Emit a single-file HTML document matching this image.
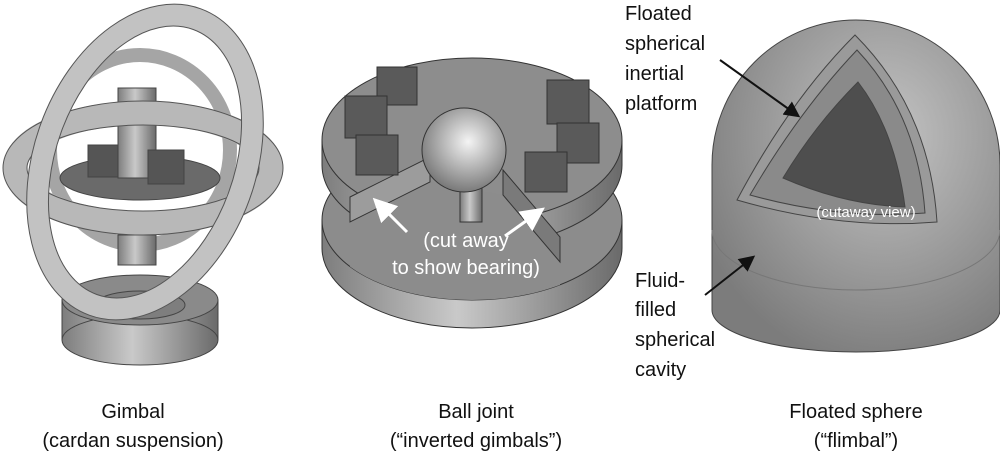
<!DOCTYPE html>
<html><head><meta charset="utf-8"><style>
html,body{margin:0;padding:0;background:#fff;}
svg{display:block}
text{font-family:"Liberation Sans",Arial,sans-serif;}
</style></head><body>
<svg width="1000" height="456" viewBox="0 0 1000 456" xmlns="http://www.w3.org/2000/svg">
<defs>
<linearGradient id="cyl" x1="0" x2="1" y1="0" y2="0">
<stop offset="0" stop-color="#7d7d7d"/><stop offset="0.45" stop-color="#c9c9c9"/><stop offset="1" stop-color="#6a6a6a"/></linearGradient>
<radialGradient id="ball" cx="0.55" cy="0.4" r="0.6"><stop offset="0" stop-color="#f4f4f4"/><stop offset="1" stop-color="#7a7a7a"/></radialGradient>
<radialGradient id="dome" cx="0.6" cy="0.35" r="0.7"><stop offset="0" stop-color="#c4c4c4"/><stop offset="1" stop-color="#7c7c7c"/></radialGradient>
<clipPath id="lowtop"><ellipse cx="472" cy="220" rx="150" ry="80"/></clipPath>
<marker id="aw" markerWidth="8" markerHeight="8" refX="6" refY="4" orient="auto"><path d="M0,0 L8,4 L0,8 z" fill="#fff"/></marker>
<marker id="ab" markerWidth="8" markerHeight="8" refX="6" refY="4" orient="auto"><path d="M0,0 L8,4 L0,8 z" fill="#111"/></marker>
</defs>

<!-- GIMBAL -->
<g stroke="#444" stroke-width="1">
<rect x="62" y="300" width="156" height="40" fill="url(#cyl)"/>
<ellipse cx="140" cy="340" rx="78" ry="25" fill="url(#cyl)"/>
<ellipse cx="140" cy="300" rx="78" ry="25" fill="#8a8a8a"/>
<ellipse cx="140" cy="305" rx="45" ry="14" fill="#7e7e7e"/>
<ellipse cx="140" cy="150" rx="90" ry="95" fill="none" stroke="#a5a5a5" stroke-width="14"/>
<ellipse cx="140" cy="178" rx="80" ry="22" fill="#6a6a6a"/>
<rect x="118" y="88" width="38" height="90" fill="url(#cyl)"/>
<rect x="88" y="145" width="30" height="32" fill="#555"/><rect x="148" y="150" width="36" height="34" fill="#555"/>
<rect x="118" y="235" width="38" height="30" fill="url(#cyl)"/>
</g>
<ellipse cx="143" cy="168" rx="128" ry="55" fill="none" stroke="#b8b8b8" stroke-width="24"/>
<ellipse cx="143" cy="168" rx="140" ry="67" fill="none" stroke="#555" stroke-width="1"/>
<ellipse cx="143" cy="168" rx="116" ry="43" fill="none" stroke="#555" stroke-width="1"/>
<ellipse cx="145" cy="162" rx="100" ry="152" transform="rotate(20 145 162)" fill="none" stroke="#c2c2c2" stroke-width="22"/>
<ellipse cx="145" cy="162" rx="111" ry="163" transform="rotate(20 145 162)" fill="none" stroke="#555" stroke-width="1"/>
<ellipse cx="145" cy="162" rx="89" ry="141" transform="rotate(20 145 162)" fill="none" stroke="#555" stroke-width="1"/>

<!-- BALL JOINT -->
<g stroke="#333" stroke-width="1">
<!-- lower disc -->
<ellipse cx="472" cy="248" rx="150" ry="80" fill="url(#cyl)"/>
<rect x="322" y="220" width="300" height="28" fill="url(#cyl)" stroke="none"/>
<line x1="322" y1="220" x2="322" y2="248"/><line x1="622" y1="220" x2="622" y2="248"/>
<ellipse cx="472" cy="220" rx="150" ry="80" fill="#8c8c8c"/>
<!-- upper disc -->
<ellipse cx="472" cy="165" rx="150" ry="82" fill="url(#cyl)"/>
<rect x="322" y="140" width="300" height="25" fill="url(#cyl)" stroke="none"/>
<line x1="322" y1="140" x2="322" y2="165"/><line x1="622" y1="140" x2="622" y2="165"/>
<ellipse cx="472" cy="140" rx="150" ry="82" fill="#8d8d8d"/>
<!-- cutaway wedge -->
<polygon points="350,222 430,182 503,195 560,262 560,320 350,320" fill="#8c8c8c" stroke="none" clip-path="url(#lowtop)"/>
<polygon points="350,197 430,157 430,182 350,222" fill="#9c9c9c"/>
<polygon points="503,170 560,237 560,262 503,195" fill="#7a7a7a"/>
<rect x="460" y="185" width="22" height="37" fill="url(#cyl)"/>
<circle cx="464" cy="150" r="42" fill="url(#ball)"/>
<g fill="#5a5a5a"><rect x="377" y="67" width="40" height="38"/><rect x="345" y="96" width="42" height="42"/><rect x="356" y="135" width="42" height="40"/>
<rect x="547" y="80" width="42" height="44"/><rect x="557" y="123" width="42" height="40"/><rect x="525" y="152" width="42" height="40"/></g>
</g>
<line x1="407" y1="232" x2="377" y2="202" stroke="#fff" stroke-width="3" marker-end="url(#aw)"/>
<line x1="505" y1="236" x2="540" y2="211" stroke="#fff" stroke-width="3" marker-end="url(#aw)"/>
<text x="466" y="247" font-size="20" fill="#fff" text-anchor="middle">(cut away</text>
<text x="466" y="274" font-size="20" fill="#fff" text-anchor="middle">to show bearing)</text>

<!-- FLOATED SPHERE -->
<g stroke="#444" stroke-width="1">
<path d="M712 310 L712 165 A144 145 0 0 1 1000 165 L1000 310 A144 42 0 0 1 712 310 Z" fill="url(#dome)"/>
<path d="M712 230 A144 60 0 0 0 1000 230" fill="none" stroke="#777"/>
<path d="M855 35 Q790 100 737 200 Q840 230 937 222 Q930 110 855 35 z" fill="#9a9a9a"/>
<path d="M857 50 Q800 110 750 195 Q840 220 925 213 Q918 115 857 50 z" fill="#8a8a8a"/>
<path d="M858 82 Q815 125 783 178 Q845 205 905 207 Q895 130 858 82 z" fill="#4e4e4e"/>
</g>
<text x="866" y="217" font-size="15" fill="#fff" text-anchor="middle">(cutaway view)</text>
<line x1="720" y1="60" x2="797" y2="115" stroke="#111" stroke-width="2" marker-end="url(#ab)"/>
<line x1="705" y1="295" x2="752" y2="258" stroke="#111" stroke-width="2" marker-end="url(#ab)"/>
<g font-size="20" fill="#111">
<text x="625" y="20">Floated</text><text x="625" y="50">spherical</text><text x="625" y="80">inertial</text><text x="625" y="110">platform</text>
<text x="635" y="287">Fluid-</text><text x="635" y="316">filled</text><text x="635" y="346">spherical</text><text x="635" y="376">cavity</text>
</g>

<g font-size="20" fill="#111" text-anchor="middle">
<text x="133" y="418">Gimbal</text><text x="133" y="447">(cardan suspension)</text>
<text x="476" y="418">Ball joint</text><text x="476" y="447">(“inverted gimbals”)</text>
<text x="856" y="418">Floated sphere</text><text x="856" y="447">(“flimbal”)</text>
</g>
</svg>
</body></html>
